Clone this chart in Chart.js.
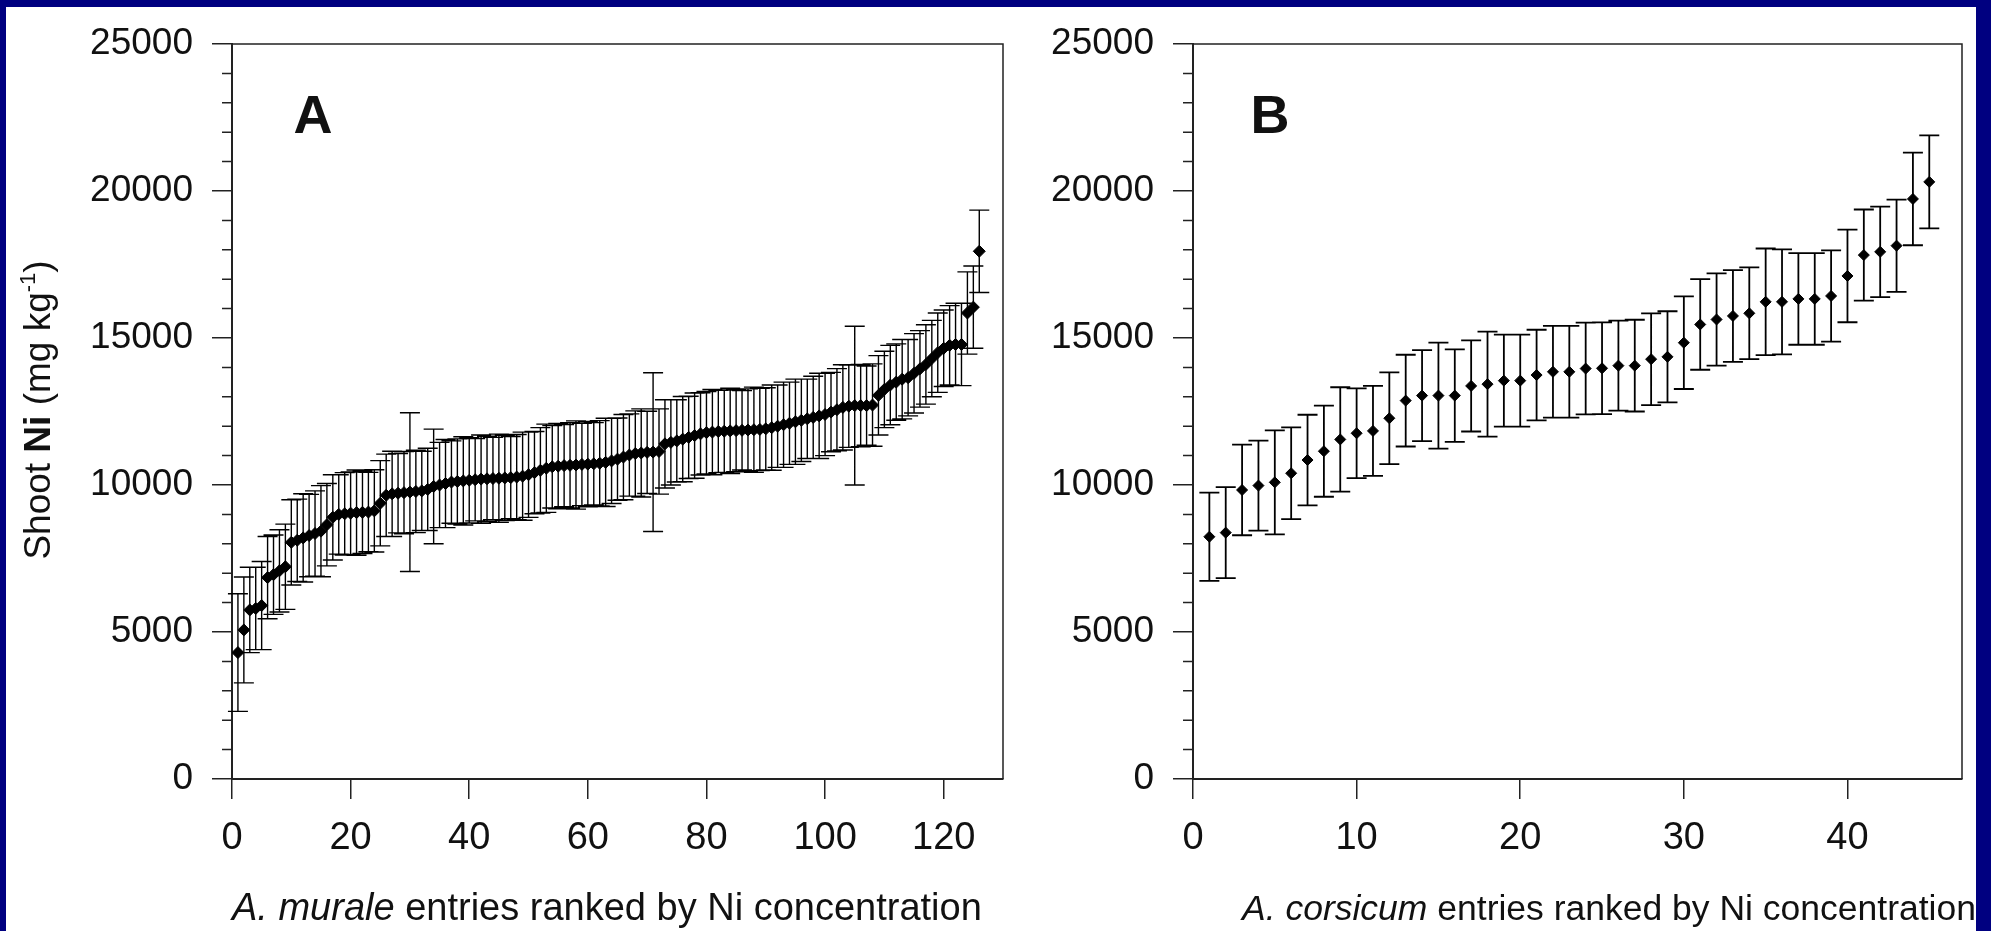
<!DOCTYPE html>
<html>
<head>
<meta charset="utf-8">
<script src="https://cdn.jsdelivr.net/npm/chart.js@4.4.1/dist/chart.umd.min.js"></script>
<style>
  html, body { margin: 0; padding: 0; width: 1991px; height: 931px; overflow: hidden; background: #000080; }
  #sheet { position: absolute; left: 6px; top: 7px; width: 1970px; height: 924px; background: #fff; }
  canvas { position: absolute; top: 0; }
  #chart-a { left: 0; }
  #chart-b { left: 1012px; }
</style>
</head>
<body>
<div id="sheet"></div>
<canvas id="chart-a" width="1012" height="931"></canvas>
<canvas id="chart-b" width="979" height="931"></canvas>
<script>
"use strict";

// A. murale, mean shoot Ni per entry (ranked) and error bar half-length
const meanA = [
	4300, 5070, 5750, 5800, 5900, 6850, 6950, 7080, 7220, 8050,
	8120, 8200, 8280, 8350, 8430, 8650, 8900, 9000, 9020, 9040,
	9060, 9070, 9080, 9120, 9380, 9650, 9700, 9720, 9740, 9760,
	9780, 9800, 9850, 9950, 10000, 10050, 10100, 10120, 10140, 10160,
	10180, 10200, 10210, 10220, 10230, 10240, 10250, 10270, 10300, 10350,
	10420, 10500, 10570, 10620, 10640, 10660, 10670, 10680, 10700, 10710,
	10720, 10740, 10770, 10820, 10880, 10950, 11020, 11070, 11090, 11110,
	11120, 11140, 11400, 11450, 11500, 11560, 11620, 11680, 11740, 11780,
	11800, 11820, 11830, 11840, 11850, 11860, 11870, 11880, 11890, 11910,
	11950, 12000, 12050, 12100, 12150, 12200, 12250, 12300, 12350, 12400,
	12480, 12560, 12640, 12680, 12700, 12700, 12700, 12720, 13050, 13250,
	13400, 13500, 13600, 13650, 13800, 13950, 14100, 14300, 14500, 14650,
	14750, 14780, 14780, 15850, 16050, 17950
];
const errA = [
	2000, 1800, 1450, 1400, 1500, 1400, 1350, 1400, 1450, 1450,
	1400, 1500, 1400, 1450, 1550, 1400, 1450, 1350, 1400, 1400,
	1450, 1400, 1350, 1400, 1450, 1400, 1450, 1350, 1400, 2700,
	1400, 1350, 1400, 1950, 1450, 1500, 1400, 1450, 1500, 1450,
	1400, 1500, 1450, 1400, 1500, 1450, 1400, 1450, 1500, 1450,
	1400, 1450, 1500, 1400, 1450, 1400, 1450, 1500, 1400, 1450,
	1400, 1450, 1500, 1450, 1400, 1450, 1400, 1450, 1500, 1400,
	2700, 1450, 1500, 1450, 1400, 1450, 1400, 1450, 1400, 1400,
	1450, 1400, 1400, 1450, 1400, 1350, 1400, 1450, 1400, 1400,
	1450, 1400, 1450, 1400, 1450, 1400, 1350, 1400, 1450, 1400,
	1350, 1400, 1450, 1400, 2700, 1400, 1350, 1400, 1350, 1300,
	1350, 1300, 1350, 1300, 1350, 1300, 1350, 1300, 1350, 1300,
	1350, 1400, 1400, 1400, 1400, 1400
];

// A. corsicum
const meanB = [
	8240, 8380, 9830, 9980, 10090, 10400, 10850, 11150, 11550, 11760,
	11840, 12270, 12870, 13040, 13040, 13040, 13370, 13430, 13550, 13550,
	13740, 13850, 13850, 13960, 13970, 14060, 14060, 14280, 14360, 14840,
	15460, 15630, 15750, 15840, 16230, 16230, 16330, 16330, 16430, 17110,
	17820, 17930, 18140, 19730, 20310
];
const errB = [
	1500, 1550, 1540, 1530, 1770, 1560, 1540, 1550, 1775, 1525,
	1530, 1560, 1560, 1550, 1800, 1575, 1550, 1785, 1565, 1565,
	1540, 1560, 1560, 1560, 1560, 1530, 1560, 1560, 1550, 1575,
	1540, 1570, 1560, 1560, 1815, 1785, 1560, 1560, 1550, 1575,
	1550, 1540, 1570, 1575, 1580
];

const yMax = 25000;
const yStep = 5000;
const yMinorStep = 1000;
const xMaxA = 130, xStepA = 20;
const xMaxB = 47, xStepB = 10;

const FONT = "'Liberation Sans', Arial, Helvetica, sans-serif";
const INK = '#111';
const AXIS = '#222';


function drawRuns(ctx, runs, x, y) {
	let cx = x;
	for (const r of runs) {
		ctx.font = r.font;
		ctx.fillText(r.text, cx, y + (r.dy || 0));
		cx += ctx.measureText(r.text).width;
	}
}

function runsWidth(ctx, runs) {
	let w = 0;
	for (const r of runs) {
		ctx.font = r.font;
		w += ctx.measureText(r.text).width;
	}
	return w;
}


const panelDecor = {
	id: 'panelDecor',
	beforeDatasetsDraw(chart) {
		const {ctx, chartArea: a, scales: {x, y}} = chart;
		const ds = chart.data.datasets[0];
		const cfg = chart.config.options.plugins.panelDecor;
		ctx.save();

		// top and right frame
		ctx.strokeStyle = AXIS;
		ctx.lineWidth = 1.5;
		ctx.beginPath();
		ctx.moveTo(a.left, a.top);
		ctx.lineTo(a.right, a.top);
		ctx.lineTo(a.right, a.bottom);
		ctx.stroke();

		// minor y ticks
		ctx.beginPath();
		for (let v = yMinorStep; v < yMax; v += yMinorStep) {
			if (v % yStep === 0) continue;
			const py = y.getPixelForValue(v);
			ctx.moveTo(a.left - 10, py);
			ctx.lineTo(a.left, py);
		}
		ctx.stroke();

		// error bars
		ctx.strokeStyle = '#000';
		ctx.lineWidth = cfg.barWidth;
		ctx.beginPath();
		ds.data.forEach((p, i) => {
			const px = x.getPixelForValue(p.x);
			const top = y.getPixelForValue(p.y + ds.errors[i]);
			const bot = y.getPixelForValue(p.y - ds.errors[i]);
			ctx.moveTo(px, top); ctx.lineTo(px, bot);
			ctx.moveTo(px - 10, top); ctx.lineTo(px + 10, top);
			ctx.moveTo(px - 10, bot); ctx.lineTo(px + 10, bot);
		});
		ctx.stroke();
		ctx.restore();
	},
	afterDraw(chart) {
		const {ctx, chartArea: a} = chart;
		const cfg = chart.config.options.plugins.panelDecor;
		ctx.save();
		ctx.fillStyle = INK;

		// panel letter
		ctx.font = `bold 54px ${FONT}`;
		ctx.textAlign = 'center';
		ctx.textBaseline = 'alphabetic';
		ctx.fillText(cfg.letter, a.left + cfg.letterDx, 133);

		// x axis title
		ctx.textAlign = 'left';
		const size = cfg.titleSize;
		drawRuns(ctx, [
			{text: cfg.species, font: `italic ${size}px ${FONT}`},
			{text: ' entries ranked by Ni concentration', font: `${size}px ${FONT}`}
		], a.left + cfg.titleDx, 920);

		// y axis title
		if (cfg.yTitle) {
			const runs = [
				{text: 'Shoot ', font: `37px ${FONT}`},
				{text: 'Ni', font: `bold 37px ${FONT}`},
				{text: ' (mg kg', font: `37px ${FONT}`},
				{text: '-1', font: `22px ${FONT}`, dy: -15},
				{text: ')', font: `37px ${FONT}`}
			];
			ctx.translate(50, 410);
			ctx.rotate(-Math.PI / 2);
			drawRuns(ctx, runs, -runsWidth(ctx, runs) / 2, 0);
		}
		ctx.restore();
	}
};


function displayPanel(canvasId, means, errs, xMax, xStep, panel) {
	const ctx = document.querySelector(canvasId).getContext('2d');
	return new Chart(ctx, {
		type: 'scatter',
		data: {
			datasets: [{
				data: means.map((m, i) => ({x: i + 1, y: m})),
				errors: errs,
				pointStyle: 'rectRot',
				pointRadius: panel.pointRadius,
				backgroundColor: '#000',
				borderColor: '#000',
				borderWidth: 1,
				showLine: false
			}]
		},
		options: {
			responsive: false,
			animation: false,
			devicePixelRatio: 1,
			layout: {
				padding: {top: 44, right: panel.padRight, left: 0, bottom: 0}
			},
			plugins: {
				legend: {display: false},
				tooltip: {enabled: false},
				panelDecor: panel
			},
			scales: {
				x: {
					type: 'linear',
					min: 0,
					max: xMax,
					afterFit: (scale) => { scale.height = 152; },
					ticks: {
						stepSize: xStep,
						includeBounds: false,
						autoSkip: false,
						color: INK,
						padding: 17,
						maxRotation: 0,
						font: {family: FONT, size: 38},
						callback: (v) => String(v)
					},
					grid: {drawOnChartArea: false, drawTicks: true, tickLength: 20, color: AXIS, lineWidth: 1.5},
					border: {display: true, color: AXIS, width: 2}
				},
				y: {
					min: 0,
					max: yMax,
					afterFit: (scale) => { scale.width = panel.yAxisWidth; },
					ticks: {
						stepSize: yStep,
						color: INK,
						padding: 19,
						font: {family: FONT, size: 37},
						callback: (v) => String(v)
					},
					grid: {drawOnChartArea: false, drawTicks: true, tickLength: 20, color: AXIS, lineWidth: 1.5},
					border: {display: true, color: AXIS, width: 2}
				}
			}
		},
		plugins: [panelDecor]
	});
}


displayPanel('#chart-a', meanA, errA, xMaxA, xStepA, {
	letter: 'A', letterDx: 81, species: 'A. murale', titleSize: 38, titleDx: 0,
	yTitle: true, barWidth: 1.4, pointRadius: 6, yAxisWidth: 232, padRight: 9
});

displayPanel('#chart-b', meanB, errB, xMaxB, xStepB, {
	letter: 'B', letterDx: 77, species: 'A. corsicum', titleSize: 35.5, titleDx: 49,
	yTitle: false, barWidth: 1.8, pointRadius: 5.5, yAxisWidth: 181, padRight: 29
});
</script>
</body>
</html>
